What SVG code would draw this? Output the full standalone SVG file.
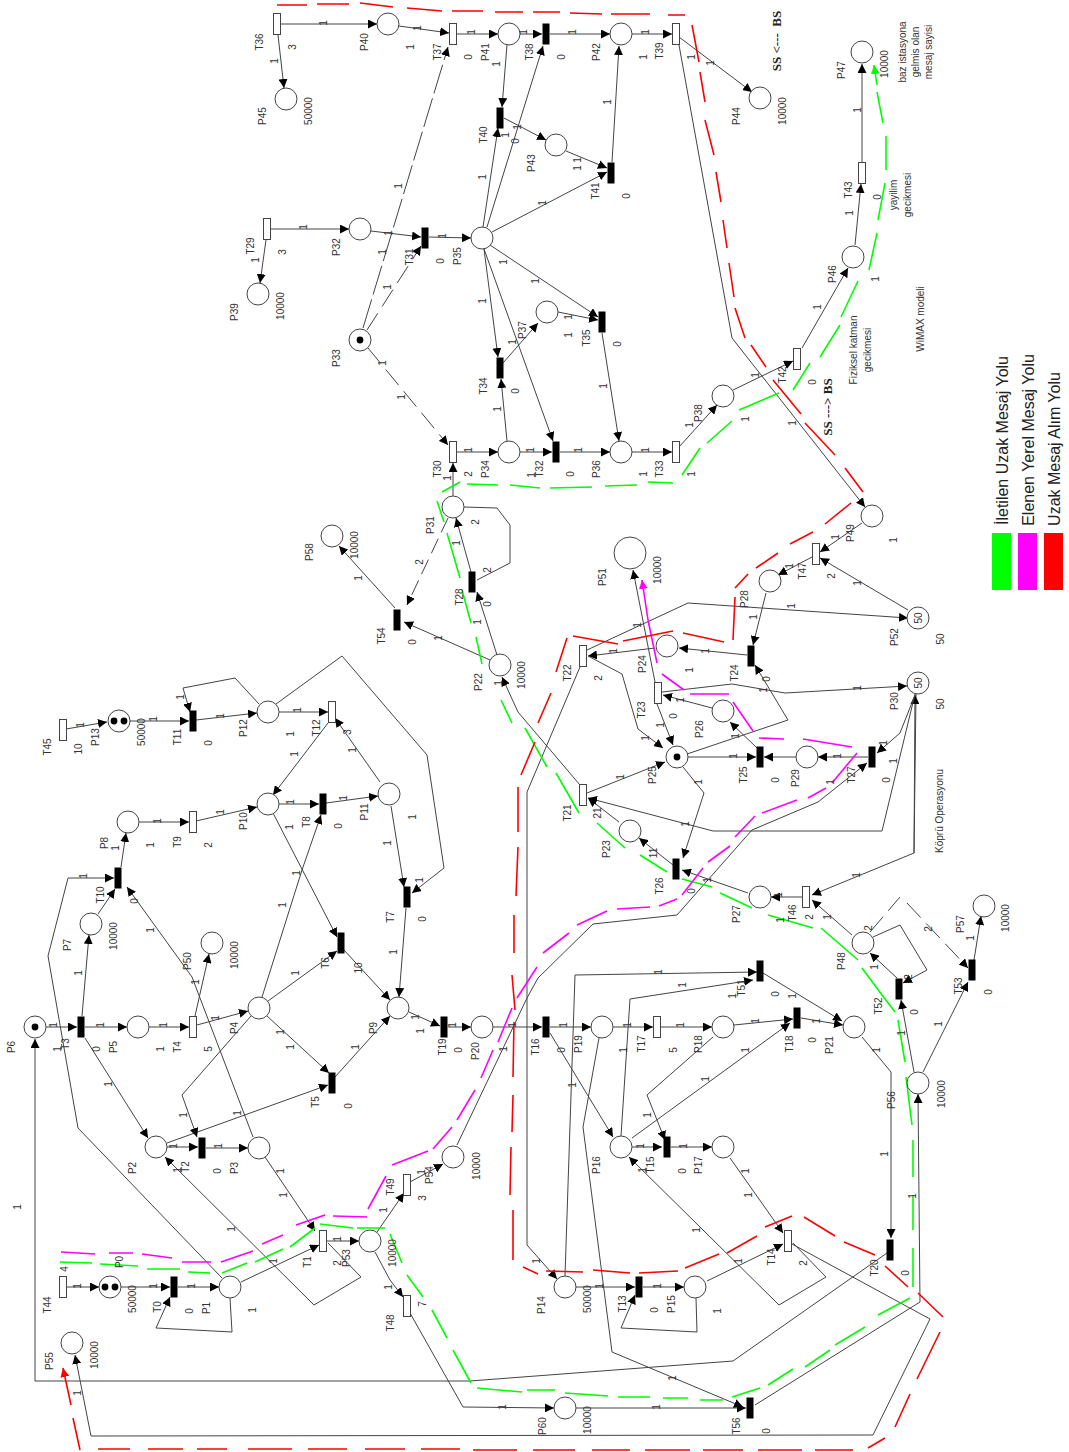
<svg xmlns="http://www.w3.org/2000/svg" width="1069" height="1452" viewBox="0 0 1069 1452">
<style>
text{font:10px "Liberation Sans",Arial,sans-serif;fill:#333;text-anchor:middle;dominant-baseline:central}
.e path{fill:none;stroke:#444;stroke-width:1;marker-end:url(#a)}
.e path.n{marker-end:none}
.e path.d{stroke-dasharray:30 5}
.e path.s{stroke-dasharray:20 8}
.c{fill:none;stroke-width:1.6}
.g{stroke:#0f0}.m{stroke:#f0f}.r{stroke:#f00}
.sb{font:bold 13px "Liberation Serif",serif;fill:#222}
.lg{font:16px "Liberation Sans",sans-serif;fill:#222}
</style>
<defs>
<marker id="a" markerUnits="userSpaceOnUse" markerWidth="9" markerHeight="9" viewBox="0 0 10 10" refX="10" refY="5" orient="auto"><path d="M0 0L10 5L0 10z" fill="#000"/></marker>
<marker id="ag" markerUnits="userSpaceOnUse" markerWidth="9" markerHeight="9" viewBox="0 0 10 10" refX="10" refY="5" orient="auto"><path d="M0 0L10 5L0 10z" fill="#0f0"/></marker>
<marker id="am" markerUnits="userSpaceOnUse" markerWidth="9" markerHeight="9" viewBox="0 0 10 10" refX="10" refY="5" orient="auto"><path d="M0 0L10 5L0 10z" fill="#f0f"/></marker>
<marker id="ar" markerUnits="userSpaceOnUse" markerWidth="9" markerHeight="9" viewBox="0 0 10 10" refX="10" refY="5" orient="auto"><path d="M0 0L10 5L0 10z" fill="#f00"/></marker>
<circle id="pl" r="11" fill="#fff" stroke="#444"/>
<rect id="tb" x="-3.5" y="-10.5" width="7" height="21" fill="#000"/>
<rect id="tw" x="-3.5" y="-10.5" width="7" height="21" fill="#fff" stroke="#444"/>
<circle id="tk" r="3.4" fill="#000"/>
</defs>
<rect width="1069" height="1452" fill="#fff"/>
<g id="connectors">
<g class="e">
<path d="M66 729L107 722"/><path d="M130 721L189 721"/><path d="M196 720L257 713"/><path d="M279 712L328 712"/>
<path d="M259 704L235 678L183 688L190 712"/><path d="M276 704L342 656L427 755L444 868L412 893"/>
<path d="M328 723L273 795"/><path d="M380 782L335 718"/><path d="M139 822L189 822"/><path d="M196 821L257 807"/>
<path d="M279 804L319 804"/><path d="M326 803L378 796"/><path d="M273 813L337 937"/><path d="M262 997L302 870L321 815"/>
<path d="M268 1001L337 951"/><path d="M344 950L390 1000"/><path d="M391 806L404 887"/><path d="M406 908L399 997"/>
<path d="M409 1012L440 1026"/><path d="M448 1027L471 1027"/><path d="M493 1027L542 1027"/><path d="M550 1027L591 1027"/>
<path d="M613 1027L653 1027"/><path d="M661 1027L712 1027"/><path d="M734 1025L793 1019"/><path d="M801 1018L843 1025"/>
<path d="M46 1027L77 1027"/><path d="M85 1027L127 1027"/><path d="M149 1027L189 1027"/><path d="M197 1025L248 1011"/>
<path d="M195 1016L209 954"/><path d="M82 1016L89 935"/><path d="M98 914L115 889"/><path d="M121 867L126 833"/>
<path d="M85 1038L148 1138"/><path d="M222 1278L78 1128L48 956L68 878L114 878"/><path d="M253 1137L192 977L127 887"/>
<path d="M167 1147L198 1147"/><path d="M206 1148L248 1148"/><path d="M167 1143L328 1085"/><path d="M251 1016L182 1095L197 1137"/>
<path d="M267 1016L329 1073"/><path d="M335 1077L390 1016"/><path d="M265 1157L315 1231"/><path d="M241 1282L319 1245"/>
<path d="M327 1241L359 1241"/><path d="M328 1243L361 1277L314 1305L165 1157"/><path d="M377 1232L404 1193"/>
<path d="M375 1252L390 1280L403 1297"/><path d="M410 1182L443 1164"/>
<path d="M457 1145L527 998L538 978L593 924L677 915L752 830L818 802L867 763"/>
<path d="M410 1313L463 1407L554 1408"/><path d="M576 1408L746 1408"/><path d="M755 1405L920 1302L918 1094"/>
<path d="M914 1072L901 1000"/><path d="M923 1072L968 982"/><path d="M974 960L981 916"/><path d="M897 978L870 953"/>
<path d="M873 937L900 925L927 970L903 983"/><path class="s" d="M870 932L900 897M907 903L968 968"/>
<path d="M852 935L812 900"/><path d="M916 694L914 853L812 895"/><path d="M914 853L915 695"/>
<path d="M802 897L771 897"/><path d="M748 893L682 870"/><path d="M673 865L639 838"/><path d="M619 822L588 798"/>
<path d="M587 793L665 762"/><path d="M915 694L882 831L713 831L588 798"/><path d="M915 695L900 733L877 753"/>
<path d="M868 757L818 757"/><path d="M796 757L764 757"/><path d="M688 757L756 757"/><path d="M757 748L730 722"/>
<path d="M712 708L663 695"/><path d="M657 704L673 745"/><path d="M662 692L732 684L785 693L907 686"/>
<path d="M687 754L788 720L755 665"/><path d="M747 655L679 648"/><path d="M655 648L588 656"/>
<path d="M587 650L688 603L908 618"/><path d="M766 593L753 645"/><path d="M812 557L778 575"/><path d="M862 523L820 552"/>
<path d="M908 610L820 558"/><path d="M679 45L732 338L865 507"/><path d="M679 37L752 92"/><path d="M679 447L717 405"/>
<path d="M733 390L793 361"/><path d="M802 348L848 268"/><path d="M855 245L861 184"/><path d="M862 162L862 64"/>
<path d="M580 785L518 712L502 677"/><path d="M580 667L527 792L527 1245L557 1279"/><path d="M565 1276L575 975L757 972"/>
<path d="M621 1136L630 999L753 980"/><path d="M763 973L842 1021"/><path d="M599 1038L583 1127L612 1352L743 1407"/>
<path d="M550 1033L613 1137"/><path d="M632 1147L662 1147"/><path d="M671 1147L712 1147"/><path d="M713 1037L647 1095L665 1140"/>
<path d="M632 1138L790 1023"/><path d="M730 1158L783 1233"/><path d="M707 1281L783 1244"/>
<path d="M793 1243L826 1277L779 1305L629 1157"/><path d="M643 1287L684 1287"/><path d="M576 1287L635 1287"/>
<path d="M696 1298L697 1332L621 1328L635 1295"/><path d="M230 1298L232 1332L156 1328L170 1297"/>
<path d="M121 1287L170 1287"/><path d="M178 1287L219 1287"/><path d="M66 1287L99 1287"/>
<path d="M887 1253L733 1361L470 1381L35 1381L35 1039"/><path d="M862 1037L891 1072L891 1238"/>
<path d="M792 1244L930 1319L873 1435L91 1436L75 1355"/>
<path d="M281 24L377 24"/><path d="M278 35L284 88"/><path d="M399 26L449 33"/><path d="M457 34L498 34"/><path d="M520 34L542 34"/>
<path d="M550 34L610 34"/><path d="M632 34L672 34"/><path d="M507 45L502 107"/><path d="M504 118L546 140"/><path d="M566 151L607 168"/>
<path d="M612 162L619 46"/><path d="M483 227L498 128"/><path d="M487 227L543 46"/><path d="M492 232L607 172"/><path d="M490 245L598 317"/>
<path d="M484 249L498 357"/><path d="M484 249L553 441"/><path d="M503 363L538 323"/><path d="M558 312L598 320"/><path d="M602 333L619 441"/>
<path d="M507 441L501 379"/><path d="M520 452L552 452"/><path d="M560 452L610 452"/><path d="M632 452L672 452"/><path d="M457 452L498 452"/>
<path d="M453 496L453 463"/><path d="M271 229L349 229"/><path d="M266 240L260 283"/><path d="M371 231L421 237"/><path d="M429 237L471 238"/>
<path class="s" d="M367 330L421 246"/><path class="d" d="M363 328L448 47"/><path class="s" d="M368 348L448 445"/>
<path d="M490 660L404 622"/><path d="M395 608L339 546"/><path class="s" style="stroke-dasharray:16 7" d="M448 518L407 605"/><path d="M497 655L477 592"/>
<path d="M471 572L456 518"/><path class="n" d="M464 507L497 508L510 525L510 563L477 580"/><path d="M683 767L704 793L683 858"/>
<path d="M588 656L622 674L638 729L663 748"/><path d="M655 682L633 570"/>
</g>
<path class="c g" d="M60 1262L92 1263M100 1264L138 1266M147 1269L180 1269M188 1272L210 1273M222 1273L247 1263M255 1262L283 1249M290 1247L315 1228M320 1224L353 1228M357 1228L385 1228M390 1234L402 1263M407 1275L423 1297M432 1310L447 1338M453 1350L471 1383M477 1388L522 1392M527 1390L555 1390M565 1393L608 1396M618 1397L650 1397M663 1398L688 1398M700 1400L723 1400M732 1397L760 1388M768 1385L793 1369M805 1367L830 1350M835 1345L865 1327M878 1315L910 1298M913 1287L913 1248M913 1230L913 1195M913 1177L913 1140M912 1125L906 1077M905 1062L898 1020M895 1012L885 999L862 968M858 960L821 928M813 928L768 915M752 908L720 893M712 887L682 879M667 872L640 855M625 848L597 823M579 813L556 773M547 767L525 728M512 723L501 700M494 687L494 687M482 664L476 637M471 623L462 590M460 578L447 533M444 522L437 501M442 492L460 482M467 484L498 485M510 485L540 488M550 488L592 487M605 486L637 485M648 482L673 483M682 475L700 448M707 443L732 421M739 410L779 393M793 390L810 363M820 357L840 325M841 317L858 281M869 270L877 233M878 220L885 183M886 170L886 136M883 123L877 92"/>
<path class="c g" marker-end="url(#ag)" d="M877 85L874 65"/>
<path class="c m" d="M61 1252L95 1254M109 1253L133 1253M142 1254L172 1258M182 1262L211 1262M221 1262L253 1251M262 1244L283 1235M296 1225L325 1215M333 1216L367 1217M368 1209L386 1176M392 1165L428 1151M433 1149L452 1127M457 1120L475 1090M481 1078L493 1050M498 1042L512 1008M517 998L537 967M543 953L569 933M577 925L607 911M617 909L650 907M659 906L677 899M682 895L703 868M708 862L730 846M735 837L755 816M762 813L797 800M808 798L826 788M832 783L857 753M852 747L803 739M784 739L759 738M753 731L733 702M729 694L690 694M684 690L662 674M657 663L648 620"/>
<path class="c m" marker-end="url(#am)" d="M648 620L642 580"/>
<path class="c r" d="M80 1450L73 1418M98 1449L130 1449M148 1449L183 1449M197 1449L227 1449M248 1449L292 1449M308 1449L347 1449M365 1449L405 1449M421 1449L460 1449M473 1450L517 1450M533 1450L575 1450M592 1450L630 1450M645 1450L690 1450M703 1450L743 1450M758 1450L802 1450M815 1450L853 1450M868 1448L885 1438M895 1427L910 1394M917 1379L940 1332M943 1317L918 1293M908 1287L885 1266M875 1255L844 1242M835 1236L804 1217M792 1216L765 1227M757 1236L727 1253M719 1254L685 1268M678 1271L639 1273M630 1273L593 1270M583 1272L546 1271M538 1274L523 1267M513 1260L513 1210M510 1195L511 1147M512 1132L513 1095M513 1077L514 1022M515 1010L512 975M514 953L514 915M516 896L518 847M518 832L518 787M521 775L535 742M538 723L551 693M556 672L567 638M573 636L618 644M623 641L673 631M683 633L724 642M733 640L735 597M735 588L748 574M756 568L778 553M790 544L813 532M825 524L851 503M863 492L845 468M835 455L805 423M801 414L773 380M766 367L751 345M745 338L735 308M734 297L729 263M727 248L723 220M721 202L716 172M714 155L705 120M705 102L700 72M699 62L692 25M685 15L668 15M650 14L638 14L611 14M602 14L570 13M560 12L533 12M523 12L495 12M483 11L452 11M442 11L407 8M393 7L360 3M349 4L317 4M307 5L277 5"/>
<path class="c r" marker-end="url(#ar)" d="M71 1405L63 1368"/>
<g id="connector-labels">
<text transform="translate(80 725) rotate(-90)">1</text><text transform="translate(153 719) rotate(-90)">1</text><text transform="translate(180 697) rotate(-90)">1</text><text transform="translate(220 716) rotate(-90)">1</text><text transform="translate(297 710) rotate(-90)">1</text><text transform="translate(290 734) rotate(-90)">1</text><text transform="translate(294 754) rotate(-90)">1</text><text transform="translate(352 750) rotate(-90)">1</text><text transform="translate(157 821) rotate(-90)">1</text><text transform="translate(115 848) rotate(-90)">1</text><text transform="translate(150 845) rotate(-90)">1</text><text transform="translate(220 812) rotate(-90)">1</text><text transform="translate(290 802) rotate(-90)">1</text><text transform="translate(343 798) rotate(-90)">1</text><text transform="translate(412 817) rotate(-90)">1</text><text transform="translate(387 843) rotate(-90)">1</text><text transform="translate(289 827) rotate(-90)">1</text><text transform="translate(296 873) rotate(-90)">1</text><text transform="translate(282 905) rotate(-90)">1</text><text transform="translate(393 952) rotate(-90)">1</text><text transform="translate(419 880) rotate(-90)">1</text><text transform="translate(83 876) rotate(-90)">1</text><text transform="translate(78 973) rotate(-90)">1</text><text transform="translate(150 930) rotate(-90)">1</text><text transform="translate(195 982) rotate(-90)">1</text><text transform="translate(295 973) rotate(-90)">1</text><text transform="translate(53 1025) rotate(-90)">1</text><text transform="translate(57 1049) rotate(-90)">1</text><text transform="translate(100 1025) rotate(-90)">1</text><text transform="translate(163 1025) rotate(-90)">1</text><text transform="translate(160 1049) rotate(-90)">1</text><text transform="translate(215 1018) rotate(-90)">1</text><text transform="translate(280 1032) rotate(-90)">1</text><text transform="translate(290 1047) rotate(-90)">1</text><text transform="translate(355 1047) rotate(-90)">1</text><text transform="translate(415 1017) rotate(-90)">1</text><text transform="translate(420 1031) rotate(-90)">1</text><text transform="translate(452 1025) rotate(-90)">1</text>
<text transform="translate(17 1207) rotate(-90)">1</text><text transform="translate(108 1084) rotate(-90)">1</text><text transform="translate(183 1115) rotate(-90)">1</text><text transform="translate(237 1113) rotate(-90)">1</text><text transform="translate(173 1146) rotate(-90)">1</text><text transform="translate(218 1146) rotate(-90)">1</text><text transform="translate(177 1170) rotate(-90)">1</text><text transform="translate(280 1171) rotate(-90)">1</text><text transform="translate(283 1195) rotate(-90)">1</text><text transform="translate(231 1229) rotate(-90)">1</text><text transform="translate(273 1261) rotate(-90)">1</text><text transform="translate(337 1239) rotate(-90)">1</text><text transform="translate(383 1210) rotate(-90)">1</text><text transform="translate(421 1172) rotate(-90)">1</text><text transform="translate(388 1287) rotate(-90)">1</text><text transform="translate(77 1286) rotate(-90)">1</text><text transform="translate(153 1286) rotate(-90)">1</text><text transform="translate(191 1286) rotate(-90)">1</text><text transform="translate(252 1310) rotate(-90)">1</text><text transform="translate(77 1393) rotate(-90)">1</text>
<text transform="translate(512 1025) rotate(-90)">1</text><text transform="translate(563 1025) rotate(-90)">1</text><text transform="translate(627 1025) rotate(-90)">1</text><text transform="translate(680 1025) rotate(-90)">1</text><text transform="translate(755 1021) rotate(-90)">1</text><text transform="translate(816 1021) rotate(-90)">1</text><text transform="translate(503 1049) rotate(-90)">1</text><text transform="translate(623 1050) rotate(-90)">1</text><text transform="translate(572 1085) rotate(-90)">1</text><text transform="translate(647 1115) rotate(-90)">1</text><text transform="translate(705 1079) rotate(-90)">1</text><text transform="translate(745 1050) rotate(-90)">1</text><text transform="translate(876 1050) rotate(-90)">1</text><text transform="translate(901 1033) rotate(-90)">1</text><text transform="translate(938 1024) rotate(-90)">1</text><text transform="translate(884 1154) rotate(-90)">1</text><text transform="translate(912 1196) rotate(-90)">1</text><text transform="translate(640 1146) rotate(-90)">1</text><text transform="translate(683 1146) rotate(-90)">1</text><text transform="translate(642 1170) rotate(-90)">1</text><text transform="translate(745 1171) rotate(-90)">1</text><text transform="translate(748 1195) rotate(-90)">1</text><text transform="translate(696 1230) rotate(-90)">1</text><text transform="translate(738 1261) rotate(-90)">1</text><text transform="translate(536 1261) rotate(-90)">1</text><text transform="translate(599 1286) rotate(-90)">1</text><text transform="translate(657 1286) rotate(-90)">1</text><text transform="translate(717 1311) rotate(-90)">1</text><text transform="translate(502 1407) rotate(-90)">1</text><text transform="translate(656 1407) rotate(-90)">1</text><text transform="translate(672 1378) rotate(-90)">1</text>
<text transform="translate(835 537) rotate(-90)">1</text><text transform="translate(789 566) rotate(-90)">1</text><text transform="translate(857 583) rotate(-90)">1</text><text transform="translate(893 540) rotate(-90)">1</text><text transform="translate(753 617) rotate(-90)">1</text><text transform="translate(791 606) rotate(-90)">1</text><text transform="translate(637 625) rotate(-90)">1</text><text transform="translate(689 670) rotate(-90)">1</text><text transform="translate(705 651) rotate(-90)">1</text><text transform="translate(613 651) rotate(-90)">1</text><text transform="translate(763 690) rotate(-90)">1</text><text transform="translate(857 688) rotate(-90)">1</text><text transform="translate(680 700) rotate(-90)">1</text><text transform="translate(660 725) rotate(-90)">1</text><text transform="translate(735 736) rotate(-90)">1</text><text transform="translate(645 738) rotate(-90)">1</text><text transform="translate(620 777) rotate(-90)">1</text><text transform="translate(733 756) rotate(-90)">1</text><text transform="translate(837 756) rotate(-90)">1</text><text transform="translate(883 743) rotate(-90)">1</text><text transform="translate(893 761) rotate(-90)">1</text><text transform="translate(830 782) rotate(-90)">1</text><text transform="translate(698 782) rotate(-90)">1</text><text transform="translate(597 813) rotate(-90)">21</text><text transform="translate(685 824) rotate(-90)">1</text><text transform="translate(653 853) rotate(-90)">11</text><text transform="translate(707 880) rotate(-90)">1</text><text transform="translate(778 895) rotate(-90)">1</text><text transform="translate(780 920) rotate(-90)">1</text><text transform="translate(856 875) rotate(-90)">1</text><text transform="translate(827 917) rotate(-90)">1</text><text transform="translate(868 928) rotate(-90)">2</text><text transform="translate(928 929) rotate(-90)">2</text><text transform="translate(874 967) rotate(-90)">1</text><text transform="translate(908 977) rotate(-90)">2</text><text transform="translate(658 972) rotate(-90)">1</text><text transform="translate(682 985) rotate(-90)">1</text><text transform="translate(732 996) rotate(-90)">1</text><text transform="translate(792 996) rotate(-90)">1</text><text transform="translate(498 683) rotate(-90)">1</text><text transform="translate(487 570) rotate(-90)">2</text><text transform="translate(475 522) rotate(-90)">2</text><text transform="translate(456 543) rotate(-90)">1</text><text transform="translate(419 562) rotate(-90)">2</text><text transform="translate(358 578) rotate(-90)">1</text><text transform="translate(438 638) rotate(-90)">1</text><text transform="translate(477 622) rotate(-90)">1</text><text transform="translate(970 938) rotate(-90)">1</text>
<text transform="translate(323 23) rotate(-90)">1</text><text transform="translate(417 28) rotate(-90)">1</text><text transform="translate(410 47) rotate(-90)">1</text><text transform="translate(471 32) rotate(-90)">1</text><text transform="translate(523 32) rotate(-90)">1</text><text transform="translate(572 32) rotate(-90)">1</text><text transform="translate(274 61) rotate(-90)">1</text><text transform="translate(496 64) rotate(-90)">1</text><text transform="translate(505 135) rotate(-90)">1</text><text transform="translate(607 102) rotate(-90)">1</text><text transform="translate(577 160) rotate(-90)">1</text><text transform="translate(577 168) rotate(-90)">1</text><text transform="translate(517 127) rotate(-90)">1</text><text transform="translate(482 177) rotate(-90)">1</text><text transform="translate(398 186) rotate(-90)">1</text><text transform="translate(542 203) rotate(-90)">1</text><text transform="translate(303 227) rotate(-90)">1</text><text transform="translate(388 233) rotate(-90)">1</text><text transform="translate(442 236) rotate(-90)">1</text><text transform="translate(255 260) rotate(-90)">1</text><text transform="translate(382 252) rotate(-90)">1</text><text transform="translate(387 287) rotate(-90)">1</text><text transform="translate(503 262) rotate(-90)">1</text><text transform="translate(535 281) rotate(-90)">1</text><text transform="translate(482 301) rotate(-90)">1</text><text transform="translate(568 317) rotate(-90)">1</text><text transform="translate(568 335) rotate(-90)">1</text><text transform="translate(603 386) rotate(-90)">1</text><text transform="translate(512 342) rotate(-90)">1</text><text transform="translate(382 363) rotate(-90)">1</text><text transform="translate(401 397) rotate(-90)">1</text><text transform="translate(497 409) rotate(-90)">1</text><text transform="translate(468 450) rotate(-90)">1</text><text transform="translate(530 450) rotate(-90)">1</text><text transform="translate(578 450) rotate(-90)">1</text><text transform="translate(447 478) rotate(-90)">1</text><text transform="translate(531 475) rotate(-90)">1</text>
<text transform="translate(645 32) rotate(-90)">1</text><text transform="translate(643 57) rotate(-90)">1</text><text transform="translate(691 57) rotate(-90)">1</text><text transform="translate(710 63) rotate(-90)">1</text><text transform="translate(857 110) rotate(-90)">1</text><text transform="translate(849 213) rotate(-90)">1</text><text transform="translate(817 307) rotate(-90)">1</text><text transform="translate(875 279) rotate(-90)">1</text><text transform="translate(755 375) rotate(-90)">1</text><text transform="translate(745 419) rotate(-90)">1</text><text transform="translate(792 423) rotate(-90)">1</text><text transform="translate(689 425) rotate(-90)">1</text><text transform="translate(645 450) rotate(-90)">1</text><text transform="translate(643 474) rotate(-90)">1</text><text transform="translate(691 474) rotate(-90)">1</text>
</g>
</g>
<g id="P0"><use href="#pl" x="110" y="1287"/><use href="#tk" x="105" y="1287"/><use href="#tk" x="115" y="1287"/><text transform="translate(119 1262) rotate(-90)">P0</text><text transform="translate(132 1299) rotate(-90)">50000</text></g>
<g id="P1"><use href="#pl" x="230" y="1287"/><text transform="translate(206 1308) rotate(-90)">P1</text></g>
<g id="P2"><use href="#pl" x="156" y="1147"/><text transform="translate(132 1168) rotate(-90)">P2</text></g>
<g id="P3"><use href="#pl" x="259" y="1148"/><text transform="translate(234 1168) rotate(-90)">P3</text></g>
<g id="P4"><use href="#pl" x="259" y="1008"/><text transform="translate(234 1028) rotate(-90)">P4</text></g>
<g id="P5"><use href="#pl" x="138" y="1027"/><text transform="translate(113 1047) rotate(-90)">P5</text></g>
<g id="P6"><use href="#pl" x="35" y="1027"/><use href="#tk" x="35" y="1027"/><text transform="translate(11 1047) rotate(-90)">P6</text></g>
<g id="P7"><use href="#pl" x="91" y="924"/><text transform="translate(67 945) rotate(-90)">P7</text><text transform="translate(113 936) rotate(-90)">10000</text></g>
<g id="P8"><use href="#pl" x="128" y="822"/><text transform="translate(104 843) rotate(-90)">P8</text></g>
<g id="P9"><use href="#pl" x="398" y="1008"/><text transform="translate(373 1028) rotate(-90)">P9</text></g>
<g id="P10"><use href="#pl" x="268" y="804"/><text transform="translate(243 821) rotate(-90)">P10</text></g>
<g id="P11"><use href="#pl" x="389" y="794"/><text transform="translate(364 812) rotate(-90)">P11</text></g>
<g id="P12"><use href="#pl" x="268" y="712"/><text transform="translate(243 728) rotate(-90)">P12</text></g>
<g id="P13"><use href="#pl" x="119" y="721"/><use href="#tk" x="114" y="721"/><use href="#tk" x="124" y="721"/><text transform="translate(95 737) rotate(-90)">P13</text><text transform="translate(141 732) rotate(-90)">50000</text></g>
<g id="P14"><use href="#pl" x="565" y="1287"/><text transform="translate(541 1305) rotate(-90)">P14</text><text transform="translate(587 1299) rotate(-90)">50000</text></g>
<g id="P15"><use href="#pl" x="695" y="1287"/><text transform="translate(671 1304) rotate(-90)">P15</text></g>
<g id="P16"><use href="#pl" x="621" y="1147"/><text transform="translate(596 1165) rotate(-90)">P16</text></g>
<g id="P17"><use href="#pl" x="723" y="1147"/><text transform="translate(698 1165) rotate(-90)">P17</text></g>
<g id="P18"><use href="#pl" x="723" y="1027"/><text transform="translate(698 1044) rotate(-90)">P18</text></g>
<g id="P19"><use href="#pl" x="602" y="1027"/><text transform="translate(578 1044) rotate(-90)">P19</text></g>
<g id="P20"><use href="#pl" x="482" y="1027"/><text transform="translate(475 1051) rotate(-90)">P20</text></g>
<g id="P21"><use href="#pl" x="854" y="1027"/><text transform="translate(829 1045) rotate(-90)">P21</text></g>
<g id="P22"><use href="#pl" x="500" y="665"/><text transform="translate(478 682) rotate(-90)">P22</text><text transform="translate(521 675) rotate(-90)">10000</text></g>
<g id="P23"><use href="#pl" x="630" y="831"/><text transform="translate(606 849) rotate(-90)">P23</text></g>
<g id="P24"><use href="#pl" x="667" y="646"/><text transform="translate(642 664) rotate(-90)">P24</text></g>
<g id="P25"><use href="#pl" x="677" y="757"/><use href="#tk" x="677" y="757"/><text transform="translate(652 775) rotate(-90)">P25</text></g>
<g id="P26"><use href="#pl" x="723" y="711"/><text transform="translate(699 729) rotate(-90)">P26</text></g>
<g id="P27"><use href="#pl" x="760" y="897"/><text transform="translate(736 914) rotate(-90)">P27</text></g>
<g id="P28"><use href="#pl" x="770" y="581"/><text transform="translate(744 599) rotate(-90)">P28</text></g>
<g id="P29"><use href="#pl" x="807" y="757"/><text transform="translate(795 778) rotate(-90)">P29</text></g>
<g id="P30"><use href="#pl" x="918" y="683"/><text transform="translate(918 683) rotate(-90)">50</text><text transform="translate(894 701) rotate(-90)">P30</text><text transform="translate(940 704) rotate(-90)">50</text></g>
<g id="P31"><use href="#pl" x="453" y="507"/><text transform="translate(430 525) rotate(-90)">P31</text></g>
<g id="P32"><use href="#pl" x="360" y="229"/><text transform="translate(336 247) rotate(-90)">P32</text></g>
<g id="P33"><use href="#pl" x="360" y="340"/><use href="#tk" x="360" y="340"/><text transform="translate(336 358) rotate(-90)">P33</text></g>
<g id="P34"><use href="#pl" x="509" y="452"/><text transform="translate(485 469) rotate(-90)">P34</text></g>
<g id="P35"><use href="#pl" x="482" y="238"/><text transform="translate(457 256) rotate(-90)">P35</text></g>
<g id="P36"><use href="#pl" x="621" y="452"/><text transform="translate(596 469) rotate(-90)">P36</text></g>
<g id="P37"><use href="#pl" x="547" y="312"/><text transform="translate(522 330) rotate(-90)">P37</text></g>
<g id="P38"><use href="#pl" x="723" y="396"/><text transform="translate(698 413) rotate(-90)">P38</text></g>
<g id="P39"><use href="#pl" x="258" y="294"/><text transform="translate(234 312) rotate(-90)">P39</text><text transform="translate(280 306) rotate(-90)">10000</text></g>
<g id="P40"><use href="#pl" x="388" y="24"/><text transform="translate(364 42) rotate(-90)">P40</text></g>
<g id="P41"><use href="#pl" x="509" y="34"/><text transform="translate(485 52) rotate(-90)">P41</text></g>
<g id="P42"><use href="#pl" x="621" y="34"/><text transform="translate(596 52) rotate(-90)">P42</text></g>
<g id="P43"><use href="#pl" x="556" y="145"/><text transform="translate(531 163) rotate(-90)">P43</text></g>
<g id="P44"><use href="#pl" x="760" y="98"/><text transform="translate(736 116) rotate(-90)">P44</text><text transform="translate(782 111) rotate(-90)">10000</text></g>
<g id="P45"><use href="#pl" x="286" y="99"/><text transform="translate(262 116) rotate(-90)">P45</text><text transform="translate(308 111) rotate(-90)">50000</text></g>
<g id="P46"><use href="#pl" x="853" y="257"/><text transform="translate(832 274) rotate(-90)">P46</text></g>
<g id="P47"><use href="#pl" x="862" y="52"/><text transform="translate(841 70) rotate(-90)">P47</text><text transform="translate(884 64) rotate(-90)">10000</text></g>
<g id="P48"><use href="#pl" x="863" y="943"/><text transform="translate(841 961) rotate(-90)">P48</text></g>
<g id="P49"><use href="#pl" x="872" y="516"/><text transform="translate(850 533) rotate(-90)">P49</text></g>
<g id="P50"><use href="#pl" x="212" y="943"/><text transform="translate(187 961) rotate(-90)">P50</text><text transform="translate(234 955) rotate(-90)">10000</text></g>
<g id="P51"><circle cx="630" cy="553" r="16" fill="#fff" stroke="#444"/><text transform="translate(602 577) rotate(-90)">P51</text><text transform="translate(657 570) rotate(-90)">10000</text></g>
<g id="P52"><use href="#pl" x="918" y="618"/><text transform="translate(918 618) rotate(-90)">50</text><text transform="translate(894 637) rotate(-90)">P52</text><text transform="translate(940 639) rotate(-90)">50</text></g>
<g id="P53"><use href="#pl" x="370" y="1241"/><text transform="translate(346 1258) rotate(-90)">P53</text><text transform="translate(392 1253) rotate(-90)">10000</text></g>
<g id="P54"><use href="#pl" x="453" y="1157"/><text transform="translate(429 1175) rotate(-90)">P54</text><text transform="translate(476 1166) rotate(-90)">10000</text></g>
<g id="P55"><use href="#pl" x="72" y="1343"/><text transform="translate(49 1361) rotate(-90)">P55</text><text transform="translate(94 1355) rotate(-90)">10000</text></g>
<g id="P56"><use href="#pl" x="918" y="1083"/><text transform="translate(891 1100) rotate(-90)">P56</text><text transform="translate(941 1094) rotate(-90)">10000</text></g>
<g id="P57"><use href="#pl" x="984" y="906"/><text transform="translate(960 924) rotate(-90)">P57</text><text transform="translate(1005 918) rotate(-90)">10000</text></g>
<g id="P58"><use href="#pl" x="332" y="536"/><text transform="translate(309 552) rotate(-90)">P58</text><text transform="translate(354 545) rotate(-90)">10000</text></g>
<g id="P60"><use href="#pl" x="565" y="1408"/><text transform="translate(542 1426) rotate(-90)">P60</text><text transform="translate(587 1420) rotate(-90)">10000</text></g>
<g id="T0"><use href="#tb" x="174" y="1287"/><text transform="translate(157 1307) rotate(-90)">T0</text><text transform="translate(189 1311) rotate(-90)">0</text></g>
<g id="T1"><use href="#tw" x="323" y="1241"/><text transform="translate(307 1262) rotate(-90)">T1</text><text transform="translate(337 1263) rotate(-90)">2</text></g>
<g id="T2"><use href="#tb" x="202" y="1148"/><text transform="translate(185 1167) rotate(-90)">T2</text><text transform="translate(217 1171) rotate(-90)">0</text></g>
<g id="T3"><use href="#tb" x="81" y="1027"/><text transform="translate(65 1044) rotate(-90)">T3</text><text transform="translate(96 1049) rotate(-90)">0</text></g>
<g id="T4"><use href="#tw" x="193" y="1027"/><text transform="translate(177 1047) rotate(-90)">T4</text><text transform="translate(208 1049) rotate(-90)">5</text></g>
<g id="T5"><use href="#tb" x="332" y="1083"/><text transform="translate(315 1102) rotate(-90)">T5</text><text transform="translate(348 1106) rotate(-90)">0</text></g>
<g id="T6"><use href="#tb" x="341" y="943"/><text transform="translate(325 963) rotate(-90)">T6</text><text transform="translate(358 968) rotate(-90)">10</text></g>
<g id="T7"><use href="#tb" x="407" y="897"/><text transform="translate(390 917) rotate(-90)">T7</text><text transform="translate(422 919) rotate(-90)">0</text></g>
<g id="T8"><use href="#tb" x="323" y="804"/><text transform="translate(306 822) rotate(-90)">T8</text><text transform="translate(338 826) rotate(-90)">0</text></g>
<g id="T9"><use href="#tw" x="193" y="822"/><text transform="translate(177 842) rotate(-90)">T9</text><text transform="translate(208 845) rotate(-90)">2</text></g>
<g id="T10"><use href="#tb" x="118" y="878"/><text transform="translate(100 895) rotate(-90)">T10</text><text transform="translate(134 901) rotate(-90)">0</text></g>
<g id="T11"><use href="#tb" x="193" y="721"/><text transform="translate(177 737) rotate(-90)">T11</text><text transform="translate(208 743) rotate(-90)">0</text></g>
<g id="T12"><use href="#tw" x="332" y="712"/><text transform="translate(316 728) rotate(-90)">T12</text><text transform="translate(347 732) rotate(-90)">3</text></g>
<g id="T13"><use href="#tb" x="639" y="1287"/><text transform="translate(622 1304) rotate(-90)">T13</text><text transform="translate(654 1310) rotate(-90)">0</text></g>
<g id="T14"><use href="#tw" x="788" y="1241"/><text transform="translate(771 1257) rotate(-90)">T14</text><text transform="translate(803 1263) rotate(-90)">2</text></g>
<g id="T15"><use href="#tb" x="667" y="1147"/><text transform="translate(650 1165) rotate(-90)">T15</text><text transform="translate(682 1171) rotate(-90)">0</text></g>
<g id="T16"><use href="#tb" x="546" y="1027"/><text transform="translate(535 1047) rotate(-90)">T16</text><text transform="translate(561 1050) rotate(-90)">0</text></g>
<g id="T17"><use href="#tw" x="657" y="1027"/><text transform="translate(641 1044) rotate(-90)">T17</text><text transform="translate(673 1050) rotate(-90)">5</text></g>
<g id="T18"><use href="#tb" x="797" y="1018"/><text transform="translate(789 1044) rotate(-90)">T18</text><text transform="translate(812 1040) rotate(-90)">0</text></g>
<g id="T19"><use href="#tb" x="444" y="1027"/><text transform="translate(442 1047) rotate(-90)">T19</text><text transform="translate(458 1050) rotate(-90)">0</text></g>
<g id="T20"><use href="#tb" x="890" y="1250"/><text transform="translate(874 1268) rotate(-90)">T20</text><text transform="translate(905 1273) rotate(-90)">0</text></g>
<g id="T21"><use href="#tw" x="583" y="795"/><text transform="translate(567 813) rotate(-90)">T21</text></g>
<g id="T22"><use href="#tw" x="583" y="656"/><text transform="translate(567 673) rotate(-90)">T22</text><text transform="translate(598 678) rotate(-90)">2</text></g>
<g id="T23"><use href="#tw" x="658" y="693"/><text transform="translate(641 710) rotate(-90)">T23</text><text transform="translate(673 716) rotate(-90)">0</text></g>
<g id="T24"><use href="#tb" x="751" y="656"/><text transform="translate(734 673) rotate(-90)">T24</text><text transform="translate(766 679) rotate(-90)">0</text></g>
<g id="T25"><use href="#tb" x="760" y="757"/><text transform="translate(743 775) rotate(-90)">T25</text><text transform="translate(775 780) rotate(-90)">0</text></g>
<g id="T26"><use href="#tb" x="676" y="869"/><text transform="translate(659 886) rotate(-90)">T26</text><text transform="translate(691 891) rotate(-90)">0</text></g>
<g id="T27"><use href="#tb" x="872" y="757"/><text transform="translate(851 775) rotate(-90)">T27</text><text transform="translate(886 780) rotate(-90)">0</text></g>
<g id="T28"><use href="#tb" x="472" y="582"/><text transform="translate(459 597) rotate(-90)">T28</text><text transform="translate(487 604) rotate(-90)">0</text></g>
<g id="T29"><use href="#tw" x="267" y="229"/><text transform="translate(250 246) rotate(-90)">T29</text><text transform="translate(282 252) rotate(-90)">3</text></g>
<g id="T30"><use href="#tw" x="453" y="452"/><text transform="translate(437 469) rotate(-90)">T30</text><text transform="translate(468 474) rotate(-90)">2</text></g>
<g id="T31"><use href="#tb" x="425" y="238"/><text transform="translate(409 257) rotate(-90)">T31</text><text transform="translate(440 261) rotate(-90)">0</text></g>
<g id="T32"><use href="#tb" x="556" y="452"/><text transform="translate(539 469) rotate(-90)">T32</text><text transform="translate(570 474) rotate(-90)">0</text></g>
<g id="T33"><use href="#tw" x="676" y="452"/><text transform="translate(659 469) rotate(-90)">T33</text></g>
<g id="T34"><use href="#tb" x="500" y="368"/><text transform="translate(483 386) rotate(-90)">T34</text><text transform="translate(515 391) rotate(-90)">0</text></g>
<g id="T35"><use href="#tb" x="602" y="322"/><text transform="translate(586 338) rotate(-90)">T35</text><text transform="translate(617 344) rotate(-90)">0</text></g>
<g id="T36"><use href="#tw" x="277" y="24"/><text transform="translate(259 42) rotate(-90)">T36</text><text transform="translate(292 47) rotate(-90)">3</text></g>
<g id="T37"><use href="#tw" x="453" y="34"/><text transform="translate(437 52) rotate(-90)">T37</text><text transform="translate(468 57) rotate(-90)">0</text></g>
<g id="T38"><use href="#tb" x="546" y="34"/><text transform="translate(529 52) rotate(-90)">T38</text><text transform="translate(561 57) rotate(-90)">0</text></g>
<g id="T39"><use href="#tw" x="676" y="34"/><text transform="translate(659 51) rotate(-90)">T39</text></g>
<g id="T40"><use href="#tb" x="500" y="118"/><text transform="translate(483 135) rotate(-90)">T40</text><text transform="translate(515 141) rotate(-90)">0</text></g>
<g id="T41"><use href="#tb" x="611" y="173"/><text transform="translate(595 191) rotate(-90)">T41</text><text transform="translate(626 196) rotate(-90)">0</text></g>
<g id="T42"><use href="#tw" x="797" y="359"/><text transform="translate(782 375) rotate(-90)">T42</text><text transform="translate(812 382) rotate(-90)">0</text></g>
<g id="T43"><use href="#tw" x="862" y="173"/><text transform="translate(848 190) rotate(-90)">T43</text><text transform="translate(877 197) rotate(-90)">0</text></g>
<g id="T44"><use href="#tw" x="63" y="1287"/><text transform="translate(47 1305) rotate(-90)">T44</text><text transform="translate(64 1269) rotate(-90)">4</text></g>
<g id="T45"><use href="#tw" x="63" y="730"/><text transform="translate(47 747) rotate(-90)">T45</text><text transform="translate(78 749) rotate(-90)">10</text></g>
<g id="T46"><use href="#tw" x="806" y="897"/><text transform="translate(792 913) rotate(-90)">T46</text><text transform="translate(809 917) rotate(-90)">2</text></g>
<g id="T47"><use href="#tw" x="816" y="554"/><text transform="translate(802 571) rotate(-90)">T47</text><text transform="translate(831 576) rotate(-90)">2</text></g>
<g id="T48"><use href="#tw" x="407" y="1306"/><text transform="translate(390 1323) rotate(-90)">T48</text><text transform="translate(422 1304) rotate(-90)">7</text></g>
<g id="T49"><use href="#tw" x="407" y="1185"/><text transform="translate(390 1187) rotate(-90)">T49</text><text transform="translate(422 1198) rotate(-90)">3</text></g>
<g id="T51"><use href="#tb" x="760" y="971"/><text transform="translate(741 988) rotate(-90)">T51</text><text transform="translate(775 994) rotate(-90)">0</text></g>
<g id="T52"><use href="#tb" x="899" y="989"/><text transform="translate(878 1006) rotate(-90)">T52</text><text transform="translate(914 1012) rotate(-90)">0</text></g>
<g id="T53"><use href="#tb" x="972" y="970"/><text transform="translate(958 986) rotate(-90)">T53</text><text transform="translate(988 992) rotate(-90)">0</text></g>
<g id="T54"><use href="#tb" x="397" y="620"/><text transform="translate(381 636) rotate(-90)">T54</text><text transform="translate(412 642) rotate(-90)">0</text></g>
<g id="T56"><use href="#tb" x="750" y="1408"/><text transform="translate(736 1426) rotate(-90)">T56</text><text transform="translate(766 1431) rotate(-90)">0</text></g>
<g id="annotations">
<text class="sb" xml:space="preserve" transform="translate(776 41) rotate(-90)">SS &lt;---  BS</text>
<text class="sb" transform="translate(827 407) rotate(-90)">SS ---&gt; BS</text>
<text transform="translate(902 52) rotate(-90)">baz istasyona</text><text transform="translate(915 52) rotate(-90)">gelmis olan</text><text transform="translate(928 52) rotate(-90)">mesaj sayisi</text>
<text transform="translate(893 195) rotate(-90)">yayilim</text><text transform="translate(907 195) rotate(-90)">gecikmesi</text>
<text transform="translate(853 350) rotate(-90)">Fiziksel katman</text><text transform="translate(867 350) rotate(-90)">gecikmesi</text>
<text transform="translate(920 319) rotate(-90)">WiMAX modeli</text>
<text transform="translate(939 811) rotate(-90)">Köprü Operasyonu</text>
</g>
<g id="legend">
<rect x="992" y="533" width="19" height="57" fill="#0f0"/><rect x="1018" y="533" width="19" height="57" fill="#f0f"/><rect x="1044" y="533" width="19" height="57" fill="#f00"/>
<text class="lg" transform="translate(1002 440.5) rotate(-90)">İletilen Uzak Mesaj Yolu</text>
<text class="lg" transform="translate(1028 440) rotate(-90)">Elenen Yerel Mesaj Yolu</text>
<text class="lg" transform="translate(1054 449) rotate(-90)">Uzak Mesaj Alım Yolu</text>
</g>
</svg>
